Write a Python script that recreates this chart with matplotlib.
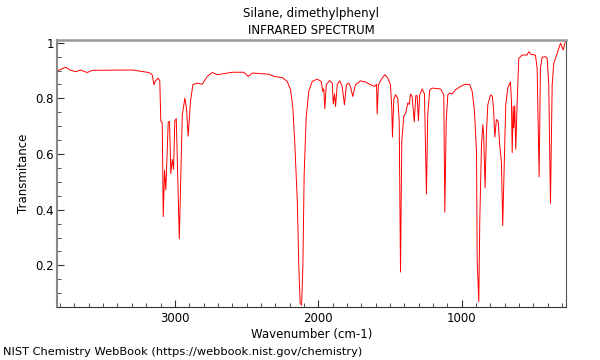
import matplotlib.pyplot as plt
from matplotlib.ticker import MultipleLocator, FuncFormatter

# IR spectrum: wavenumber (cm-1) and transmittance
wavenumber = [
    3820, 3762, 3727, 3692, 3657, 3611, 3576, 3297, 3181, 3158, 3146, 3135, 3116, 3105,
    3098, 3088, 3081, 3072, 3063, 3046, 3037, 3028, 3018, 3009, 3000, 2990, 2969, 2948,
    2930, 2918, 2907, 2891, 2874, 2844, 2809, 2774, 2739, 2704, 2600, 2519, 2488, 2460,
    2344, 2310, 2251, 2216, 2193, 2177, 2163, 2146, 2135, 2126, 2116, 2107, 2098, 2084,
    2066, 2042, 2007, 1979, 1968, 1961, 1954, 1944, 1921, 1902, 1895, 1886, 1879, 1867,
    1849, 1833, 1817, 1803, 1787, 1775, 1759, 1740, 1705, 1670, 1635, 1607, 1593, 1589,
    1580, 1554, 1535, 1515, 1496, 1487, 1482, 1473, 1461, 1445, 1435, 1426, 1417, 1403,
    1389, 1375, 1365, 1356, 1345, 1330, 1319, 1310, 1301, 1292, 1275, 1259, 1245, 1236,
    1222, 1205, 1147, 1124, 1117, 1107, 1096, 1082, 1066, 1042, 1007, 973, 943, 926,
    910, 896, 891, 880, 873, 861, 852, 846, 836, 827, 817, 798, 785, 776,
    768, 757, 745, 734, 722, 713, 703, 692, 678, 659, 652, 647, 640, 636,
    629, 622, 612, 601, 577, 543, 531, 515, 485, 473, 459, 450, 438, 415,
    403, 392, 380, 368, 357, 333, 310, 291, 275,
]
transmittance = [
    0.899, 0.912, 0.901, 0.896, 0.902, 0.893, 0.901, 0.902, 0.893, 0.885, 0.849, 0.863, 0.873, 0.863,
    0.718, 0.712, 0.375, 0.542, 0.471, 0.716, 0.716, 0.530, 0.581, 0.545, 0.720, 0.727, 0.295, 0.742,
    0.801, 0.760, 0.664, 0.789, 0.849, 0.855, 0.851, 0.879, 0.893, 0.885, 0.894, 0.894, 0.879, 0.891,
    0.887, 0.879, 0.875, 0.861, 0.831, 0.767, 0.635, 0.432, 0.195, 0.063, 0.057, 0.195, 0.527, 0.730,
    0.825, 0.861, 0.869, 0.861, 0.825, 0.834, 0.763, 0.849, 0.864, 0.855, 0.780, 0.816, 0.771, 0.851,
    0.863, 0.843, 0.777, 0.849, 0.855, 0.843, 0.807, 0.849, 0.863, 0.859, 0.849, 0.843, 0.851, 0.744,
    0.849, 0.873, 0.885, 0.873, 0.849, 0.766, 0.661, 0.795, 0.813, 0.801, 0.718, 0.176, 0.646, 0.736,
    0.748, 0.784, 0.778, 0.816, 0.807, 0.716, 0.810, 0.810, 0.720, 0.813, 0.834, 0.816, 0.456, 0.742,
    0.831, 0.837, 0.834, 0.813, 0.391, 0.718, 0.813, 0.819, 0.816, 0.831, 0.843, 0.851, 0.849, 0.825,
    0.754, 0.611, 0.218, 0.069, 0.361, 0.635, 0.706, 0.670, 0.478, 0.670, 0.777, 0.813, 0.807, 0.754,
    0.661, 0.724, 0.718, 0.635, 0.569, 0.343, 0.551, 0.777, 0.837, 0.859, 0.790, 0.605, 0.771, 0.694,
    0.774, 0.617, 0.789, 0.944, 0.956, 0.956, 0.968, 0.958, 0.956, 0.909, 0.518, 0.909, 0.948, 0.950,
    0.944, 0.849, 0.423, 0.849, 0.926, 0.962, 0.998, 0.974, 1.008,
]

fig = plt.figure(figsize=(6, 3.6), dpi=100)
ax = fig.add_axes([0.095, 0.147, 0.848, 0.742])

ax.plot(wavenumber, transmittance, color="red", linewidth=0.7)

ax.set_xlim(3822, 273)
ax.set_ylim(0.05, 1.01)

ax.xaxis.set_major_locator(MultipleLocator(1000))
ax.xaxis.set_minor_locator(MultipleLocator(100))
ax.yaxis.set_major_locator(MultipleLocator(0.2))
ax.yaxis.set_minor_locator(MultipleLocator(0.05))
ax.yaxis.set_major_formatter(FuncFormatter(lambda v, p: f"{v:g}"))
ax.tick_params(which="both", direction="in", labelsize=8.5, color="#333333")
ax.tick_params(which="major", length=5)
ax.tick_params(which="minor", length=3)
ax.tick_params(axis="y", pad=2)

ax.spines["top"].set_color("#999999")
ax.spines["top"].set_linewidth(1.8)
ax.spines["left"].set_color("#888888")
ax.spines["left"].set_linewidth(1.5)
ax.spines["bottom"].set_color("#333333")
ax.spines["right"].set_color("#555555")

ax.set_xlabel("Wavenumber (cm-1)", fontsize=8.5, labelpad=2)
ax.set_ylabel("Transmitance", fontsize=8.5, labelpad=4)

fig.text(0.519, 0.963, "Silane, dimethylphenyl", ha="center", va="center", fontsize=8.5)
fig.text(0.519, 0.916, "INFRARED SPECTRUM", ha="center", va="center", fontsize=8.5)
fig.text(0.005, 0.022, "NIST Chemistry WebBook (https://webbook.nist.gov/chemistry)",
         ha="left", va="center", fontsize=8.2)

fig.savefig("out.png", dpi=100)
